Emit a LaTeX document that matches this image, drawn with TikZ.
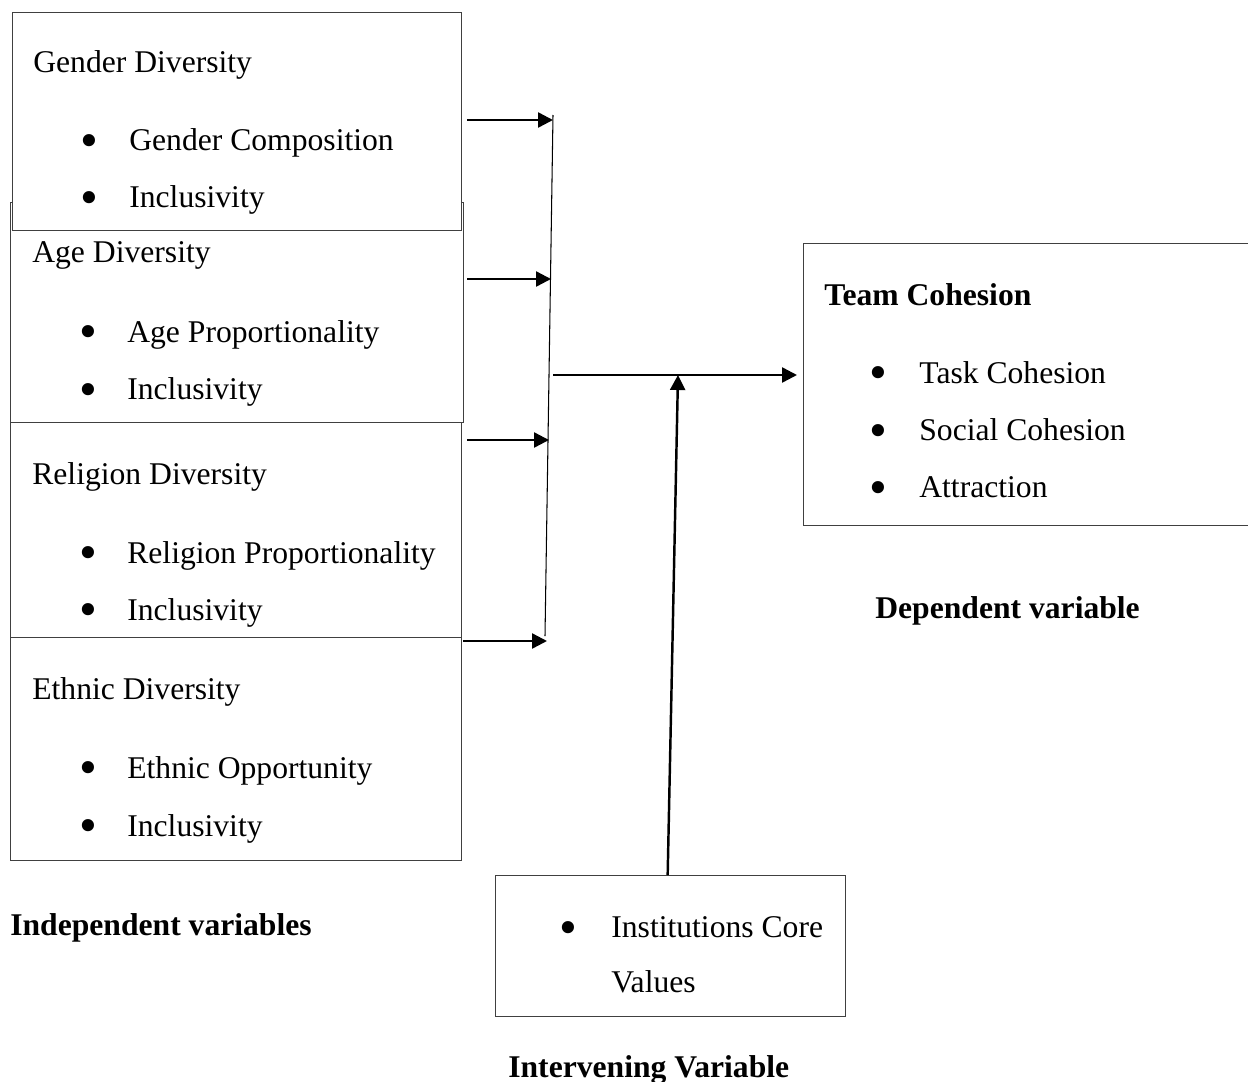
\documentclass[tikz,border=0pt]{standalone}
\usepackage{fontspec}
\setmainfont{Liberation Serif}
\usetikzlibrary{arrows.meta}
\usetikzlibrary{positioning}
\usetikzlibrary{calc}

\tikzset{
  box/.style={draw=black!75,line width=0.8pt,fill=white,anchor=north west,inner sep=0pt},
  txt/.style={anchor=base west,inner sep=0pt,font=\fontsize{18}{22}\selectfont},
  head/.style={anchor=base west,inner sep=0pt,font=\fontsize{18}{22}\selectfont\bfseries},
  dot/.style={anchor=center,inner sep=0pt,yshift=-0.1cm,font=\fontsize{29}{29}\selectfont},
  arr/.style={line width=1.4pt,-{Triangle[length=0.3cm,width=0.3cm]}},
}

\begin{document}
\begin{tikzpicture}[x=0.02cm,y=-0.02cm]
\useasboundingbox (0,0) rectangle (1248,1082);

% independent variable boxes
\node[box,minimum width=9.06cm,minimum height=4.40cm] (age) at (10,202) {};
\node[box,minimum width=8.98cm,minimum height=4.36cm] (gender) at (12,12) {};
\node[box,minimum width=9.02cm,minimum height=4.30cm] (religion) at (10,422) {};
\node[box,minimum width=9.02cm,minimum height=4.46cm] (ethnic) at (10,637) {};

\node[txt] (gendert) at (33,72) {Gender Diversity};
\node[dot] (gb1) at (89,141) {\textbullet};
\node[txt] (gendc) at (129,150) {Gender Composition};
\node[dot] (gb2) at (89,198) {\textbullet};
\node[txt] (gendi) at (129,207) {Inclusivity};

\node[txt] (aget) at (32,262) {Age Diversity};
\node[dot] (ab1) at (88,332) {\textbullet};
\node[txt] (agep) at (127,342) {Age Proportionality};
\node[dot] (ab2) at (88,390) {\textbullet};
\node[txt] (agei) at (127,399) {Inclusivity};

\node[txt] (relt) at (32,484) {Religion Diversity};
\node[dot] (rb1) at (88,553) {\textbullet};
\node[txt] (relp) at (127,563) {Religion Proportionality};
\node[dot] (rb2) at (88,610) {\textbullet};
\node[txt] (reli) at (127,620) {Inclusivity};

\node[txt] (etht) at (32,699) {Ethnic Diversity};
\node[dot] (eb1) at (88,768) {\textbullet};
\node[txt] (etho) at (127,778) {Ethnic Opportunity};
\node[dot] (eb2) at (88,826) {\textbullet};
\node[txt] (ethi) at (127,836) {Inclusivity};

\node[head] (indep) at (10,935) {Independent variables};

% dependent variable
\node[box,minimum width=8.98cm,minimum height=5.64cm] (cohesion) at (803,243) {};
\node[head] (cohest) at (824,305) {Team Cohesion};
\node[dot] (cb1) at (878,373) {\textbullet};
\node[txt] (task) at (919,383) {Task Cohesion};
\node[dot] (cb2) at (878,431) {\textbullet};
\node[txt] (social) at (919,440) {Social Cohesion};
\node[dot] (cb3) at (878,488) {\textbullet};
\node[txt] (attr) at (919,497) {Attraction};
\node[head] (dep) at (875,618) {Dependent variable};

% intervening variable
\node[box,minimum width=7.00cm,minimum height=2.82cm] (core) at (495,875) {};
\node[dot] (vb1) at (568,928) {\textbullet};
\node[txt] (corev) at (611,937) {Institutions Core};
\node[txt] (values) at (611,992) {Values};
\node[head] (interv) at (508,1077) {Intervening Variable};

% arrows
\coordinate (top) at (553,115);
\coordinate (bot) at (545,636);
\coordinate (g) at (553,120);
\coordinate (a) at (551,279);
\coordinate (r) at (549,440);
\coordinate (e) at (547,641);
\coordinate (hub) at (553,375);
\coordinate (join) at (678,375);

\draw[line width=0.6pt] (top) -- (bot);
\draw[arr] ($(gender.east |- g)+(5,0)$) -- (g);
\draw[arr] ($(age.east |- a)+(3,0)$) -- (a);
\draw[arr] ($(religion.east |- r)+(5,0)$) -- (r);
\draw[arr] ($(ethnic.east |- e)+(1,0)$) -- (e);
\draw[arr,shorten >=0.12cm] (hub) -- (cohesion.west |- hub);
\draw[arr] ($(core.north)+(-3,0)$) -- (join);

\end{tikzpicture}
\end{document}
